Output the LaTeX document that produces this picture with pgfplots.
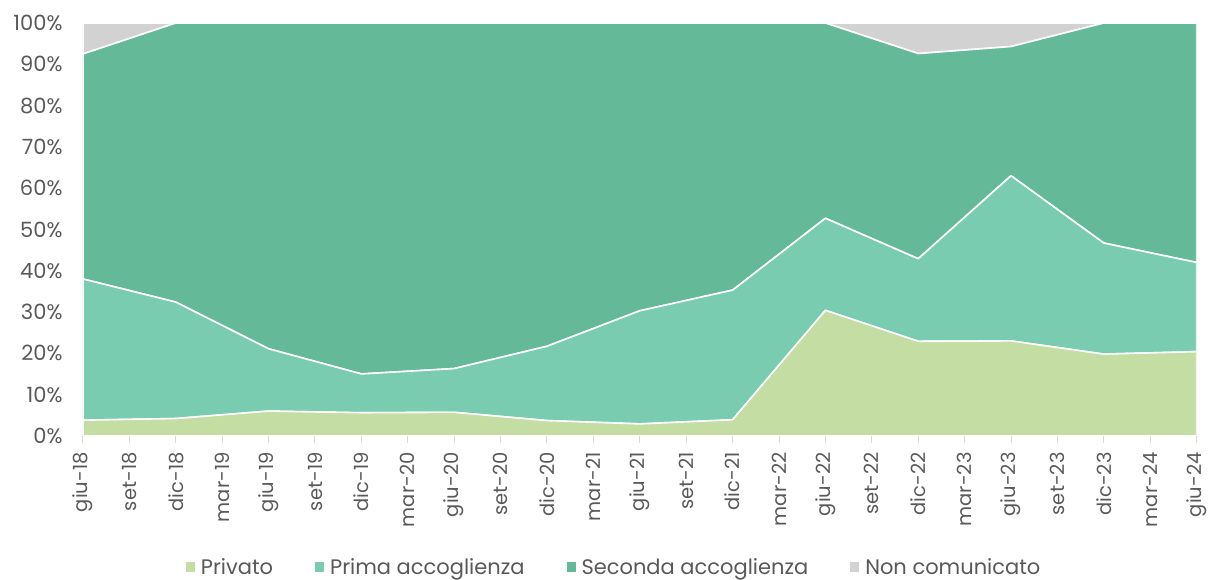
\documentclass[border=0pt]{standalone}
\usepackage{pgfplots}
\pgfplotsset{compat=1.18}
\usepackage{fontspec}
\setmainfont{Poppins}
\definecolor{cPriv}{HTML}{C3DDA3}
\definecolor{cPrima}{HTML}{7ACCB0}
\definecolor{cSec}{HTML}{63B998}
\definecolor{cNon}{HTML}{D2D2D2}
\definecolor{txt}{HTML}{595959}
\definecolor{axc}{HTML}{D9D9D9}
\begin{document}
\begin{tikzpicture}[x=1pt,y=1pt]
\begin{axis}[
  name=ax,
  scale only axis,
  width=1114pt, height=413pt,
  xmin=0, xmax=24, ymin=0, ymax=100,
  stack plots=y,
  axis x line*=bottom,
  axis y line*=left,
  y axis line style={draw=none},
  x axis line style={draw=axc, line width=1pt},
  xtick={0,...,24},
  xticklabels={giu-18,set-18,dic-18,mar-19,giu-19,set-19,dic-19,mar-20,giu-20,set-20,dic-20,mar-21,giu-21,set-21,dic-21,mar-22,giu-22,set-22,dic-22,mar-23,giu-23,set-23,dic-23,mar-24,giu-24},
  x tick label style={rotate=90, anchor=east, font=\fontsize{19.5}{20}\selectfont, text=txt, xshift=-6pt},
  x tick style={draw=axc, line width=1pt},
  xtick align=outside,
  major tick length=7pt,
  ytick={0,10,...,100},
  y tick style={draw=none},
  yticklabel={\pgfmathprintnumber{\tick}\%},
  /pgf/number format/assume math mode=true,
  y tick label style={font=\fontsize{21}{22}\selectfont, text=txt, xshift=-17pt},
  ymajorgrids, grid style={draw=axc, line width=0.8pt},
  legend columns=4,
  legend style={at={(0.477,-0.318)}, anchor=center, draw=none, fill=none,
    font=\fontsize{21}{24}\selectfont, text=txt,
    /tikz/every odd column/.append style={column sep=4pt},
    /tikz/every even column/.append style={column sep=40pt}},
  legend image code/.code={\fill[#1, draw=none] (0pt,-5pt) rectangle (9pt,5pt);},
  every axis plot/.append style={draw=white, line width=1.6pt, line join=round},
]
\addplot[fill=cPriv] table {
x y
0 3.8
2 4.2
4 6.0
6 5.6
8 5.7
10 3.7
12 2.9
14 3.9
16 30.4
18 22.9
20 23.0
22 19.8
24 20.4
} \closedcycle;
\addlegendentry{Privato}
\addplot[fill=cPrima] table {
x y
0 34.2
2 28.2
4 15.1
6 9.4
8 10.6
10 18.0
12 27.4
14 31.4
16 22.3
18 20.0
20 40.0
22 26.9
24 21.6
} \closedcycle;
\addlegendentry{Prima accoglienza}
\addplot[fill=cSec] table {
x y
0 54.5
2 67.6
4 78.9
6 85.0
8 83.7
10 78.3
12 69.7
14 64.7
16 47.3
18 49.7
20 31.3
22 53.3
24 58.0
} \closedcycle;
\addlegendentry{Seconda accoglienza}
\addplot[fill=cNon] table {
x y
0 7.5
2 0
4 0
6 0
8 0
10 0
12 0
14 0
16 0
18 7.4
20 5.7
22 0
24 0
} \closedcycle;
\addlegendentry{Non comunicato}
\end{axis}
\path (ax.south west) ++(-83pt,-141pt) rectangle ++(1210pt,577pt);
\end{tikzpicture}
\end{document}
